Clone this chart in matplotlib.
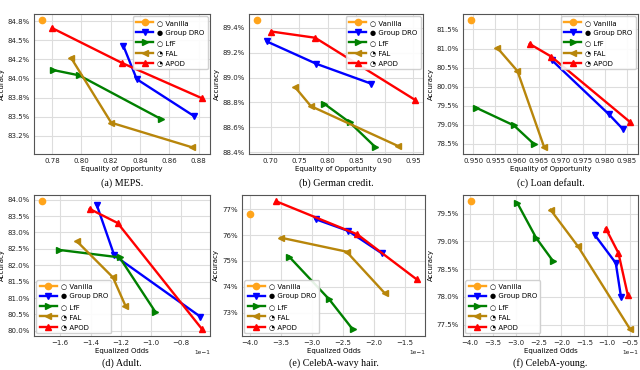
import numpy as np
import matplotlib.pyplot as plt
from matplotlib.ticker import MultipleLocator, FuncFormatter

# method order: Vanilla, Group DRO, LfF, FAL, APOD
methods = ["\u25CB Vanilla", "\u25CF Group DRO", "\u25CB LfF", "\u25D4 FAL", "\u25D4 APOD"]
colors = ["#ffa41b", "blue", "green", "#b8860b", "red"]
markers = ["o", "v", ">", "<", "^"]

# (a) MEPS
meps_x = [[0.7732], [0.8286, 0.8378, 0.8766], [0.7807, 0.7985, 0.8542],
          [0.7930, 0.8204, 0.8752], [0.7800, 0.8280, 0.8823]]
meps_y = [[0.8476], [0.8443, 0.8399, 0.8351], [0.8411, 0.8404, 0.8347],
          [0.8427, 0.8342, 0.8310], [0.8466, 0.8420, 0.8374]]

# (b) German credit
german_x = [[0.6762], [0.6936, 0.7805, 0.8767], [0.7939, 0.8385, 0.8837],
            [0.7435, 0.7707, 0.9230], [0.7017, 0.7782, 0.9532]]
german_y = [[0.8946], [0.8929, 0.8911, 0.8895], [0.8879, 0.8864, 0.8844],
            [0.8892, 0.8877, 0.8845], [0.8937, 0.8932, 0.8882]]

# (c) Loan default
loan_x = [[0.9495], [0.9680, 0.9810, 0.9842], [0.9506, 0.9593, 0.9638],
          [0.9555, 0.9601, 0.9662], [0.9629, 0.9678, 0.9858]]
loan_y = [[0.8174], [0.8069, 0.7927, 0.7888], [0.7945, 0.7898, 0.7850],
          [0.8102, 0.8041, 0.7841], [0.8112, 0.8079, 0.7907]]

# (d) Adult
adult_x = [[-0.1721], [-0.1358, -0.1243, -0.0674], [-0.1611, -0.1208, -0.0972],
           [-0.1490, -0.1252, -0.1170], [-0.1406, -0.1221, -0.0663]]
adult_y = [[0.8395], [0.8383, 0.8230, 0.8043], [0.8247, 0.8224, 0.8058],
           [0.8273, 0.8163, 0.8077], [0.8372, 0.8329, 0.8005]]

# (e) CelebA-wavy hair
wavy_x = [[-0.3989], [-0.2935, -0.2414, -0.1876], [-0.3366, -0.2720, -0.2344],
          [-0.3500, -0.2441, -0.1823], [-0.3570, -0.2269, -0.1312]]
wavy_y = [[0.7682], [0.7661, 0.7616, 0.7530], [0.7517, 0.7352, 0.7237],
          [0.7590, 0.7536, 0.7375], [0.7730, 0.7603, 0.7429]]

# (f) CelebA-young
young_x = [[-0.3978], [-0.1275, -0.0812, -0.0696], [-0.2964, -0.2551, -0.2188],
           [-0.2239, -0.1638, -0.0500], [-0.1029, -0.0754, -0.0551]]
young_y = [[0.7972], [0.7912, 0.7861, 0.7799], [0.7969, 0.7906, 0.7865],
           [0.7957, 0.7891, 0.7742], [0.7923, 0.7879, 0.7804]]

captions = ["(a) MEPS.", "(b) German credit.", "(c) Loan default.",
            "(d) Adult.", "(e) CelebA-wavy hair.", "(f) CelebA-young."]
xlabels = ["Equality of Opportunity"] * 3 + ["Equalized Odds"] * 3

panels = [(meps_x, meps_y), (german_x, german_y), (loan_x, loan_y),
          (adult_x, adult_y), (wavy_x, wavy_y), (young_x, young_y)]

# pixel boxes (left, right, top, bottom) on a 640x370 canvas
W, H = 640, 370
boxes = [(34, 210, 14, 153.5), (249, 423, 14, 153.5), (463, 638, 14, 153.5),
         (34, 210, 195, 335.5), (242, 425, 195, 335.5), (463, 638, 195, 335.5)]
ysteps = [0.0025, 0.002, 0.005, 0.005, 0.01, 0.005]
ydec = [1, 1, 1, 1, 0, 1]
xsteps = [0.02, 0.05, 0.005, 0.02, 0.05, 0.05]

fs = 5.0
fig = plt.figure(figsize=(6.4, 3.7), dpi=100)

for i, ((xs, ys), (l, r, t, b)) in enumerate(zip(panels, boxes)):
    ax = fig.add_axes([l / W, 1 - b / H, (r - l) / W, (b - t) / H])
    ax.set_axisbelow(True)
    ax.grid(True, color="#dddddd", linewidth=0.8)
    for k in range(5):
        ax.plot(xs[k], ys[k], color=colors[k], marker=markers[k], markersize=4.5,
                linewidth=1.7, label=methods[k])

    ax.yaxis.set_major_locator(MultipleLocator(ysteps[i]))
    d = ydec[i]
    ax.yaxis.set_major_formatter(FuncFormatter(lambda v, p, d=d: f"{round(v * 100, 6):.{d}f}%"))
    ax.xaxis.set_major_locator(MultipleLocator(xsteps[i]))
    if i >= 3:
        ax.ticklabel_format(axis="x", style="sci", scilimits=(0, 0))
        ax.xaxis.get_offset_text().set_fontsize(fs - 0.8)

    ax.tick_params(labelsize=fs, length=0, pad=3, colors="#222222")
    for s in ax.spines.values():
        s.set_color("#555555")
        s.set_linewidth(0.8)
    ax.set_xlabel(xlabels[i], fontsize=fs, labelpad=2)
    ax.set_ylabel("Accuracy", fontsize=fs, labelpad=2)

    ax.legend(loc="upper right" if i < 3 else "lower left", fontsize=fs,
              labelspacing=0.6, handlelength=2.45, borderpad=0.45,
              handletextpad=0.6, borderaxespad=0.35, framealpha=0.9)

    cy = 183 if i < 3 else 363
    fig.text((l + r) / 2 / W, 1 - cy / H, captions[i], ha="center", va="center",
             fontsize=7.2, family="Liberation Serif")

fig.savefig("out.png", dpi=100)
